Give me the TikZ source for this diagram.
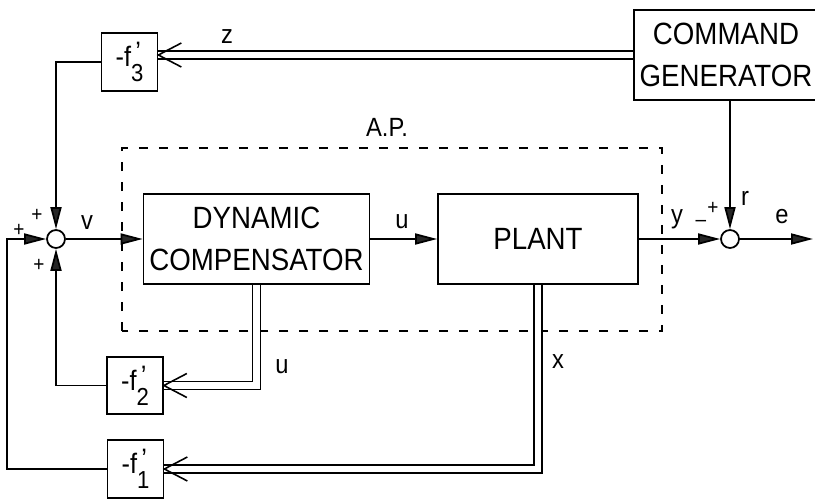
\documentclass[tikz,border=0pt]{standalone}
\usepackage{fontspec}
\newfontfamily\diafont[FakeStretch=0.9]{Liberation Sans}
\usetikzlibrary{arrows.meta,positioning}
\tikzset{
  blockbox/.style={draw, line width=1pt, minimum width=4.5cm, minimum height=1.8cm, align=center, font=\diafont\fontsize{17.5}{24}\selectfont},
  gainbox/.style={draw, line width=1pt, minimum width=1.12cm, minimum height=1.15cm, inner sep=0pt, font=\diafont\fontsize{16}{18}\selectfont},
  sumnode/.style={draw, circle, line width=1pt, minimum size=0.36cm, inner sep=0pt},
  sigline/.style={line width=1pt},
  sigarrow/.style={line width=1pt, -{Triangle[length=4.4mm,width=2.2mm,fill=black!85]}},
  vecline/.style={double, double distance=1.3mm, line width=0.9pt},
  openhead/.style={line width=0.9pt, line join=miter},
  apframe/.style={draw, dash pattern=on 1.8mm off 2.2mm, line width=0.8pt},
  lbl/.style={font=\diafont\fontsize{15}{15}\selectfont, inner sep=0pt},
  signlbl/.style={font=\diafont\fontsize{12}{12}\selectfont, inner sep=0pt},
}
\newcommand{\fgain}[1]{-f\rlap{\raisebox{3pt}{\kern2.5pt ’}}\raisebox{-8.5pt}{\fontsize{14}{14}\selectfont #1}}

\begin{document}
\begin{tikzpicture}[x=0.02cm, y=0.02cm]
  \useasboundingbox (0,0) rectangle (815,498);
  \draw[apframe] (122,167) rectangle (662,350);
  \node[lbl] (aplbl) at (387,371) {A.P.};
  \node[blockbox] (dc) at (256.5,259) {DYNAMIC\\COMPENSATOR};
  \node[blockbox, minimum width=4cm] (plant) at (538,259) {PLANT};
  \node[blockbox, minimum width=3.52cm] (cg) at (726,443) {COMMAND\\GENERATOR};
  \node[gainbox] (f3) at (129.5,436) {\fgain{3}};
  \node[gainbox] (f2) at (135,112.5) {\fgain{2}};
  \node[gainbox] (f1) at (135.5,29) {\fgain{1}};
  \node[sumnode] (sumL) at (56,259) {};
  \node[sumnode] (sumR) at (730,259) {};
  \coordinate (fbL) at (7,259);
  \coordinate (eout) at (813,259);
  \draw[sigarrow] (sumL.east) -- (dc.west);
  \draw[sigarrow] (dc.east) -- (plant.west);
  \draw[sigarrow] (plant.east) -- (sumR.west);
  \draw[sigarrow] (cg.south -| sumR) -- (sumR.north);
  \draw[sigarrow] (sumR.east) -- (eout);
  \draw[sigarrow] (f3.west) -| (sumL.north);
  \draw[sigarrow] (f2.west) -| (sumL.south);
  \draw[sigarrow] (f1.west) -| (fbL) -- (sumL.west);
  \draw[vecline] (cg.west) -- (cg.west -| f3.east);
  \draw[openhead] (cg.west -| f3.east) ++(23,12) -- ++(-23,-12) -- ++(23,-12);
  \draw[vecline] (dc.south) |- (f2.east);
  \draw[openhead] (f2.east) ++(23,12) -- ++(-23,-12) -- ++(23,-12);
  \draw[vecline] (plant.south) |- (f1.east);
  \draw[openhead] (f1.east) ++(23,12) -- ++(-23,-12) -- ++(23,-12);
  \node[lbl] (zlbl) at (227,461) {z};
  \node[lbl] (vlbl) at (87,275) {v};
  \node[lbl] (ulbl) at (402,276) {u};
  \node[lbl] (ylbl) at (677,279) {y};
  \node[lbl] (elbl) at (782,281) {e};
  \node[lbl] (rlbl) at (745,300) {r};
  \node[lbl] (uvlbl) at (282,131) {u};
  \node[lbl] (xlbl) at (558,136) {x};
  \node[signlbl] (pT) at (37,283) {+};
  \node[signlbl] (pL) at (19,268) {+};
  \node[signlbl] (pB) at (39,233) {+};
  \node[signlbl] (pR) at (713,290) {+};
  \node[signlbl] (mR) at (701,275) {–};
\end{tikzpicture}
\end{document}
